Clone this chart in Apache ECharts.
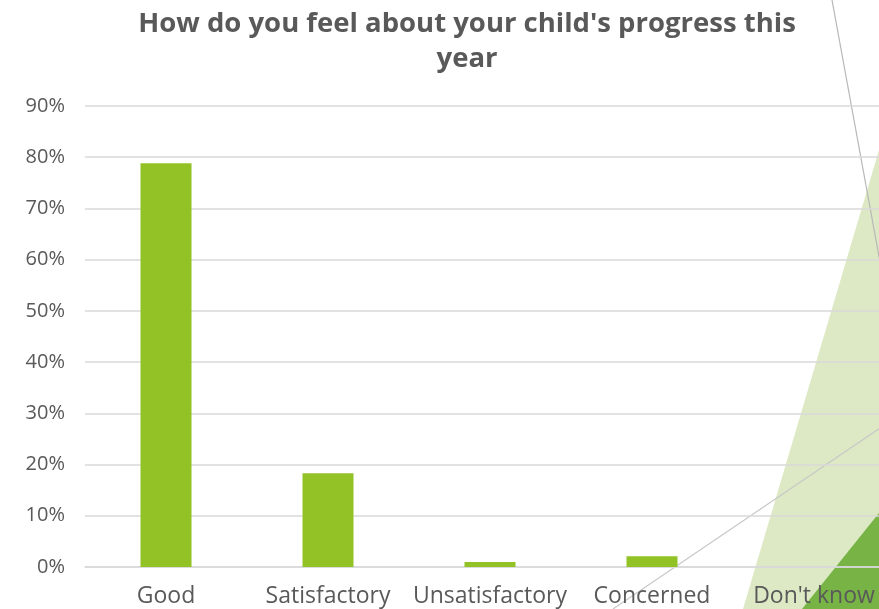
<!DOCTYPE html>
<html><head><meta charset="utf-8">
<script src="https://cdn.jsdelivr.net/npm/echarts@6/dist/echarts.min.js"></script>
<style>html,body{margin:0;padding:0;background:#fff}#c{width:879px;height:609px}</style>
</head><body><div id="c"></div>
<script>
const categories = ["Good", "Satisfactory", "Unsatisfactory", "Concerned", "Don't know"];
const values = [0.788, 0.183, 0.010, 0.021, 0];
const yTicks = [0, 0.1, 0.2, 0.3, 0.4, 0.5, 0.6, 0.7, 0.8, 0.9];

const chart = echarts.init(document.getElementById('c'));
chart.setOption({
  animation: false,
  title: {
    text: "How do you feel about your child's progress this\nyear",
    left: 462, top: 2, textAlign: 'center',
    textStyle: {fontFamily: 'Open Sans', fontWeight: 'bold', fontSize: 27.5, color: '#595959', lineHeight: 35}
  },
  graphic: [
    {type: 'polygon', z: -10, shape: {points: [[743, 609], [879, 150], [879, 609]]}, style: {fill: '#dde9c4'}},
    {type: 'polygon', z: -9, shape: {points: [[802, 609], [879, 513], [879, 609]]}, style: {fill: '#78b346'}},
    {type: 'line', z: -8, shape: {x1: 832, y1: 0, x2: 880, y2: 262}, style: {stroke: '#b8b8b8', lineWidth: 1.2}},
    {type: 'line', z: -8, shape: {x1: 613, y1: 609, x2: 880, y2: 428}, style: {stroke: '#c8c8c8', lineWidth: 1.2}}
  ],
  grid: {left: 85, width: 810, top: 106, bottom: 42, containLabel: false, outerBoundsMode: 'none'},
  xAxis: {
    type: 'category', data: categories,
    axisLine: {show: true, lineStyle: {color: '#d9d9d9', width: 1.5}},
    axisTick: {show: false},
    axisLabel: {interval: 0, fontFamily: 'Open Sans', fontSize: 23, color: '#595959', margin: 18}
  },
  yAxis: {
    type: 'value', min: 0, max: 0.9, interval: 0.1,
    axisLine: {show: false}, axisTick: {show: false},
    splitLine: {lineStyle: {color: '#d9d9d9', width: 1.5}},
    axisLabel: {fontFamily: 'Open Sans', fontSize: 20, color: '#595959', margin: 20,
      formatter: v => Math.round(v * 100) + '%'}
  },
  series: [{
    type: 'bar', data: values, barWidth: 51,
    itemStyle: {color: '#92c225'}
  }]
});
</script></body></html>
